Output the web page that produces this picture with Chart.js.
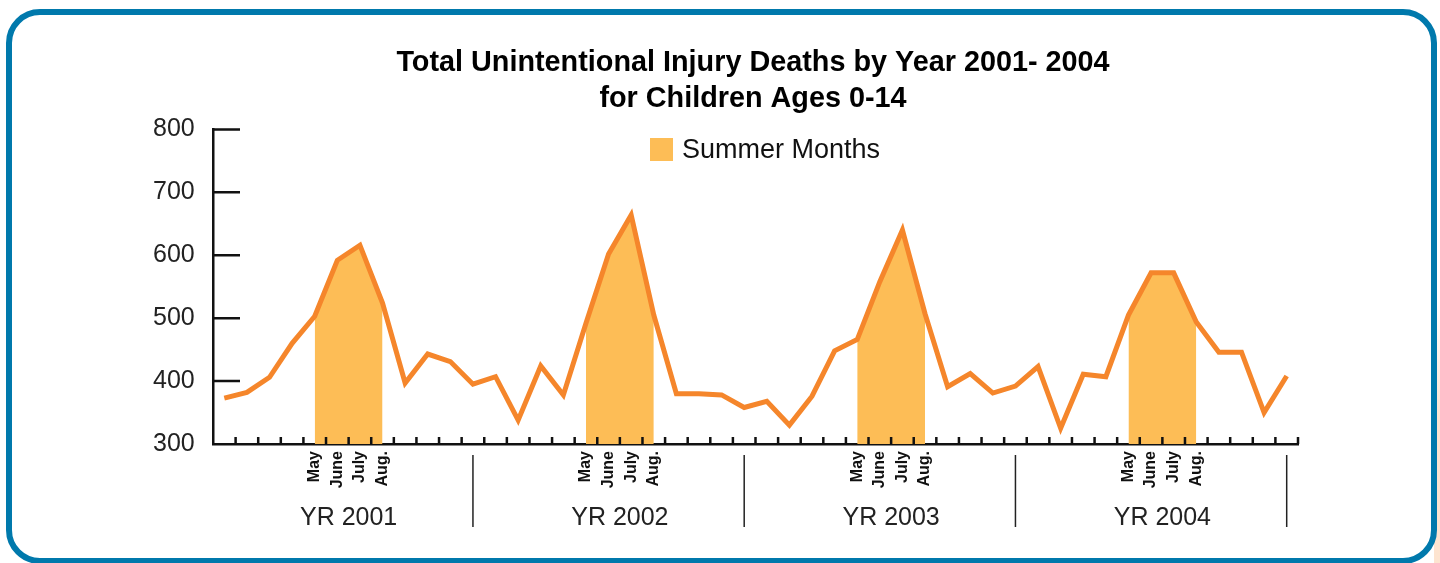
<!DOCTYPE html>
<html>
<head>
<meta charset="utf-8">
<script src="https://cdn.jsdelivr.net/npm/chart.js@4.4.1/dist/chart.umd.min.js"></script>
<style>
  html, body { margin: 0; padding: 0; background: #fff; }
  body { width: 1440px; height: 563px; position: relative; overflow: hidden;
         font-family: "Liberation Sans", Arial, Helvetica, sans-serif; }
  .peach { position: absolute; left: 1434px; top: 300px; width: 6px; height: 263px;
           background: linear-gradient(#fff, #fde4d0 45%); }
  .frame { position: absolute; left: 6px; top: 9px; width: 1431px; height: 555px;
           box-sizing: border-box; border: 6px solid #0079ac; border-radius: 34px; background: #fff; }
  #chart { position: absolute; left: 0; top: 0; }
  #legend { position: absolute; left: 650px; top: 138px; display: flex; align-items: center;
            font-size: 27px; line-height: 23px; color: #111; }
  #legend .box { display: inline-block; width: 23px; height: 23px; margin-right: 9px; }
</style>
</head>
<body>
<div class="peach"></div>
<div class="frame"></div>
<canvas id="chart" width="1440" height="563"></canvas>
<div id="legend"></div>
<script>
// monthly unintentional injury deaths, children 0-14
const months = ['Jan', 'Feb', 'Mar', 'Apr', 'May', 'June', 'July', 'Aug.', 'Sep', 'Oct', 'Nov', 'Dec'];
const summerMonths = ['May', 'June', 'July', 'Aug.'];
const years = ['YR 2001', 'YR 2002', 'YR 2003', 'YR 2004'];
const deaths2001 = [373, 382, 406, 460, 503, 592, 616, 524, 397, 443, 431, 395];
const deaths2002 = [407, 338, 424, 378, 492, 602, 664, 505, 380, 380, 378, 358];
const deaths2003 = [368, 330, 376, 448, 466, 558, 640, 507, 391, 412, 381, 392];
const deaths2004 = [423, 325, 411, 407, 505, 572, 572, 494, 446, 446, 350, 408];
const yTicks = [300, 400, 500, 600, 700, 800];

const allDeaths = [].concat(deaths2001, deaths2002, deaths2003, deaths2004);
const labels = allDeaths.map((v, i) => months[i % 12] + ' ' + years[Math.floor(i / 12)]);
const summerDeaths = allDeaths.map((v, i) => summerMonths.includes(months[i % 12]) ? v : null);

const FONT = '"Liberation Sans", Arial, Helvetica, sans-serif';
Chart.defaults.font.family = FONT;

// inward tick marks, year separators and year labels
const axisMarks = {
  id: 'axisMarks',
  afterDraw(chart) {
    const ctx = chart.ctx, x = chart.scales.x, y = chart.scales.y, area = chart.chartArea;
    ctx.save();
    ctx.strokeStyle = '#111';
    ctx.lineWidth = 2.5;
    ctx.beginPath();
    yTicks.slice(1).forEach(v => {
      const py = y.getPixelForValue(v);
      ctx.moveTo(area.left, py);
      ctx.lineTo(area.left + 27, py);
    });
    for (let i = 0; i < allDeaths.length; i++) {
      const px = i < allDeaths.length - 1 ? (x.getPixelForValue(i) + x.getPixelForValue(i + 1)) / 2 : area.right;
      ctx.moveTo(px, area.bottom);
      ctx.lineTo(px, area.bottom - 7);
    }
    ctx.stroke();

    ctx.lineWidth = 1.5;
    ctx.strokeStyle = '#222';
    ctx.fillStyle = '#222';
    ctx.font = '25px ' + FONT;
    ctx.textAlign = 'center';
    ctx.textBaseline = 'alphabetic';
    years.forEach((yr, k) => {
      const first = x.getPixelForValue(k * 12), last = x.getPixelForValue(k * 12 + 11);
      ctx.beginPath();
      ctx.moveTo(last, area.bottom + 11);
      ctx.lineTo(last, area.bottom + 83);
      ctx.stroke();
      ctx.fillText(yr, (first + last) / 2, area.bottom + 81);
    });
    ctx.restore();
  }
};

const chart = new Chart(document.getElementById('chart'), {
  type: 'line',
  data: {
    labels: labels,
    datasets: [
      {
        label: 'Deaths',
        data: allDeaths,
        borderColor: '#f5862b',
        borderWidth: 5,
        pointRadius: 0,
        tension: 0,
        fill: false
      },
      {
        label: 'Summer Months',
        data: summerDeaths,
        borderColor: '#fdbd56',
        backgroundColor: '#fdbd56',
        borderWidth: 0,
        pointRadius: 0,
        tension: 0,
        spanGaps: false,
        fill: 'start'
      }
    ]
  },
  options: {
    responsive: false,
    animation: false,
    events: [],
    layout: { padding: { left: 208, right: 142, top: 0, bottom: 0 } },
    plugins: {
      title: {
        display: true,
        text: ['Total Unintentional Injury Deaths by Year 2001- 2004', 'for Children Ages 0-14'],
        color: '#000',
        font: { size: 28.8, weight: 'bold', lineHeight: 1.24 },
        padding: { top: 45, bottom: 13 }
      },
      legend: { display: false },
      tooltip: { enabled: false }
    },
    scales: {
      x: {
        type: 'category',
        offset: true,
        grid: { display: false, drawTicks: false },
        border: { display: true, color: '#111', width: 2.5 },
        ticks: {
          autoSkip: false,
          minRotation: 90,
          maxRotation: 90,
          padding: 7,
          color: '#111',
          font: { size: 16, weight: 'bold' },
          callback: (value, index) => {
            const m = months[index % 12];
            return summerMonths.includes(m) ? m : '';
          }
        },
        afterFit: s => { s.height = 119; }
      },
      y: {
        min: 300,
        max: 800,
        grid: { display: false, drawTicks: false },
        border: { display: true, color: '#111', width: 2.5 },
        // mirrored with a negative padding so the labels sit left of the narrow axis box
        ticks: { stepSize: 100, mirror: true, crossAlign: 'far', padding: -60, color: '#222', font: { size: 25 } },
        afterFit: s => { s.width = 5; }
      }
    }
  },
  plugins: [axisMarks]
});

// html legend for the summer fill only
const summer = chart.data.datasets[1];
document.getElementById('legend').innerHTML =
  '<span class="box" style="background:' + summer.backgroundColor + '"></span>' + summer.label;
</script>
</body>
</html>
